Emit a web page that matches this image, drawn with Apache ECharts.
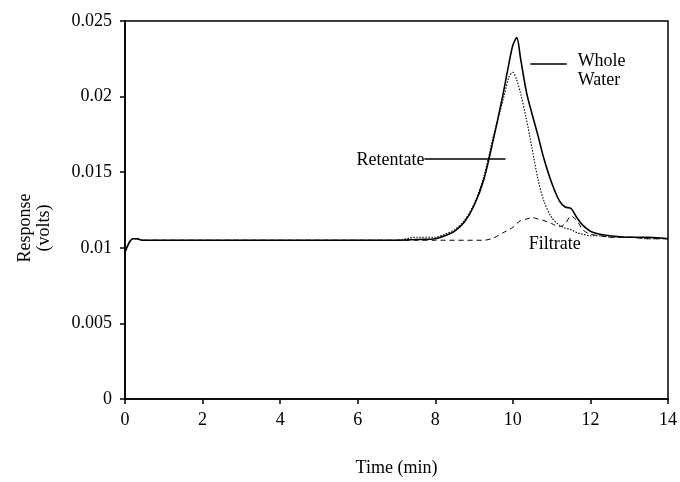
<!DOCTYPE html>
<html>
<head>
<meta charset="utf-8">
<script src="https://cdn.jsdelivr.net/npm/echarts@6/dist/echarts.min.js"></script>
<style>html,body{margin:0;padding:0;background:#fff}#c{width:680px;height:482px}</style>
</head>
<body>
<div id="c"></div>
<script>
// Data
var time = [0, 0.1, 0.2, 0.3, 0.45, 1, 2, 3, 4, 5, 6, 7, 7.5, 8, 8.25, 8.5, 8.75, 9, 9.25, 9.5, 9.75, 9.9, 10, 10.1, 10.2, 10.35, 10.5, 10.65, 10.8, 11, 11.2, 11.35, 11.5, 11.65, 11.8, 12, 12.25, 12.5, 13, 13.5, 14];
var wholeWater = [0.0097, 0.0103, 0.0106, 0.0106, 0.0105, 0.0105, 0.0105, 0.0105, 0.0105, 0.0105, 0.0105, 0.0105, 0.01055, 0.0106, 0.0108, 0.0111, 0.0117, 0.0128, 0.0145, 0.0172, 0.0202, 0.0222, 0.0234, 0.0239, 0.0225, 0.0203, 0.0188, 0.0174, 0.0159, 0.0143, 0.0131, 0.0127, 0.0126, 0.0120, 0.0115, 0.0111, 0.0109, 0.0108, 0.0107, 0.0107, 0.0106];
var retentate = [0.0097, 0.0103, 0.0106, 0.0106, 0.0105, 0.0105, 0.0105, 0.0105, 0.0105, 0.0105, 0.0105, 0.0105, 0.0107, 0.0107, 0.0109, 0.0112, 0.0118, 0.0129, 0.0147, 0.0174, 0.0198, 0.0213, 0.0216, 0.0211, 0.0202, 0.0185, 0.0165, 0.0145, 0.0131, 0.0120, 0.0115, 0.0113, 0.0112, 0.0110, 0.0109, 0.0108, 0.0108, 0.0107, 0.0107, 0.0106, 0.0106];
var filtrate = [0.0097, 0.0103, 0.0106, 0.0106, 0.0105, 0.0105, 0.0105, 0.0105, 0.0105, 0.0105, 0.0105, 0.0105, 0.0105, 0.0105, 0.0105, 0.0105, 0.0105, 0.0105, 0.0105, 0.01065, 0.0110, 0.0112, 0.01135, 0.0116, 0.0118, 0.0119, 0.0120, 0.0119, 0.0118, 0.0116, 0.0114, 0.0116, 0.0121, 0.0118, 0.0112, 0.0109, 0.0108, 0.0107, 0.0107, 0.0106, 0.0106];
var xTicks = [0, 2, 4, 6, 8, 10, 12, 14];
var yTicks = ['0', '0.005', '0.01', '0.015', '0.02', '0.025'];
// annotation anchors (data coordinates)
var annotations = [
  {text: 'Whole', x: 11.67, y: 0.02233, align: 'left'},
  {text: 'Water', x: 11.67, y: 0.0211, align: 'left'},
  {text: 'Retentate', x: 7.72, y: 0.01577, align: 'right'},
  {text: 'Filtrate', x: 10.41, y: 0.01022, align: 'left'}
];
var leaders = [
  [[10.45, 0.02217], [11.39, 0.02217]],
  [[7.72, 0.01589], [9.81, 0.01589]]
];

function pairs(ys) { return time.map(function (t, i) { return [t, ys[i]]; }); }

var FONT = 'Liberation Serif';
var chart = echarts.init(document.getElementById('c'), null, {renderer: 'canvas'});
var axisCommon = {
  axisLine: {show: true, lineStyle: {color: '#000', width: 1.5}},
  axisTick: {show: true, inside: false, length: 5, lineStyle: {color: '#000', width: 1.5}},
  splitLine: {show: false},
  axisLabel: {color: '#000', fontFamily: FONT, fontSize: 18},
  nameTextStyle: {color: '#000', fontFamily: FONT, fontSize: 18}
};
chart.setOption({
  animation: false,
  backgroundColor: '#fff',
  grid: {left: 125, right: 10, top: 21, bottom: 78, show: true, borderColor: '#000', borderWidth: 1.5, containLabel: false},
  xAxis: Object.assign({}, axisCommon, {
    type: 'value', min: 0, max: 14, interval: 2,
    name: 'Time (min)', nameLocation: 'middle', nameGap: 60,
    axisLabel: Object.assign({}, axisCommon.axisLabel, {margin: 12, formatter: function (v) { return xTicks.indexOf(v) >= 0 ? String(v) : ''; }})
  }),
  yAxis: Object.assign({}, axisCommon, {
    type: 'value', min: 0, max: 0.025, interval: 0.005,
    name: 'Response\n(volts)', nameLocation: 'middle', nameGap: 71,
    nameTextStyle: Object.assign({}, axisCommon.nameTextStyle, {lineHeight: 19, padding: [0, 36, 0, 0]}),
    axisLabel: Object.assign({}, axisCommon.axisLabel, {margin: 13, formatter: function (v) { return yTicks[Math.round(v / 0.005)]; }})
  }),
  series: [
    {name: 'Filtrate', type: 'line', data: pairs(filtrate), showSymbol: false, smooth: 0.3,
     lineStyle: {color: '#000', width: 1, type: [5, 4]}},
    {name: 'Retentate', type: 'line', data: pairs(retentate), showSymbol: false, smooth: 0.3,
     lineStyle: {color: '#000', width: 1.1, type: [1.5, 1.5]}},
    {name: 'Whole Water', type: 'line', data: pairs(wholeWater), showSymbol: false, smooth: 0.3,
     lineStyle: {color: '#000', width: 1.6},
     markLine: {silent: true, symbol: ['none', 'none'], label: {show: false},
       lineStyle: {color: '#000', width: 1.5, type: 'solid'},
       data: leaders.map(function (l) { return [{coord: l[0]}, {coord: l[1]}]; })}}
  ]
});
var g = annotations.map(function (a) {
  var p = chart.convertToPixel({gridIndex: 0}, [a.x, a.y]);
  return {type: 'text', x: p[0], y: p[1], style: {text: a.text, fill: '#000', font: '18px "' + FONT + '"', textAlign: a.align, textVerticalAlign: 'middle'}};
});
chart.setOption({graphic: g});
</script>
</body>
</html>
